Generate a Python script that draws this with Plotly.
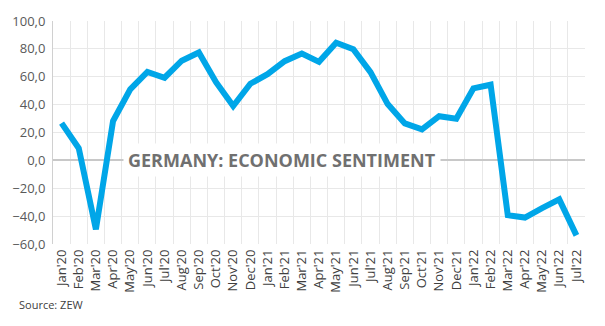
import plotly.graph_objects as go

# ZEW economic sentiment, Germany (monthly)
months = ["Jan'20", "Feb'20", "Mar'20", "Apr'20", "May'20", "Jun'20", "Jul'20", "Aug'20",
          "Sep'20", "Oct'20", "Nov'20", "Dec'20", "Jan'21", "Feb'21", "Mar'21", "Apr'21",
          "May'21", "Jun'21", "Jul'21", "Aug'21", "Sep'21", "Oct'21", "Nov'21", "Dec'21",
          "Jan'22", "Feb'22", "Mar'22", "Apr'22", "May'22", "Jun'22", "Jul'22"]
sentiment = [26.7, 8.7, -49.5, 28.2, 51.0, 63.4, 59.3, 71.5,
             77.4, 56.1, 39.0, 55.0, 61.8, 71.2, 76.6, 70.7,
             84.4, 79.8, 63.3, 40.4, 26.5, 22.3, 31.7, 29.9,
             51.7, 54.3, -39.3, -41.0, -34.3, -28.0, -53.8]
y_ticks = [-60, -40, -20, 0, 20, 40, 60, 80, 100]

fig = go.Figure()
fig.add_trace(go.Scatter(
    x=months, y=sentiment, mode="lines",
    line=dict(color="#00A6E8", width=6),
    hoverinfo="skip", showlegend=False,
))

font_family = "Open Sans, Lato, sans-serif"
fig.update_layout(
    width=605, height=326,
    margin=dict(l=50, r=20, t=20, b=82),
    paper_bgcolor="white", plot_bgcolor="white",
    separators=",.",
    font=dict(family=font_family, color="#595959", size=12),
    xaxis=dict(
        type="category", tickson="boundaries", ticks="",
        range=[-0.5, len(months) - 0.5],
        showgrid=True, gridcolor="#E8E8E8", gridwidth=1,
        tickangle=-90, tickfont=dict(size=13, color="#404040"),
        showline=False, zeroline=False, ticklabelstandoff=2,
    ),
    yaxis=dict(
        range=[-60, 100], tickvals=y_ticks, tickformat=".1f",
        showgrid=True, gridcolor="#E8E8E8", gridwidth=1,
        zeroline=True, zerolinecolor="#C8C8C8", zerolinewidth=1.5,
        showline=True, linecolor="#D0D0D0", linewidth=1,
        tickfont=dict(size=13, color="#595959"), ticks="",
        ticklabelstandoff=4,
    ),
    annotations=[
        dict(text="<b>GERMANY: ECONOMIC SENTIMENT</b>", xref="paper", yref="y",
             x=0.43, y=0, showarrow=False, bgcolor="white", borderpad=4,
             font=dict(family=font_family, size=18, color="#707070")),
        dict(text="Source: ZEW", xref="paper", yref="paper", x=-0.068, y=-0.27,
             xanchor="left", yanchor="middle", showarrow=False,
             font=dict(family=font_family, size=11, color="#404040")),
    ],
)

fig.write_html("out.html")
